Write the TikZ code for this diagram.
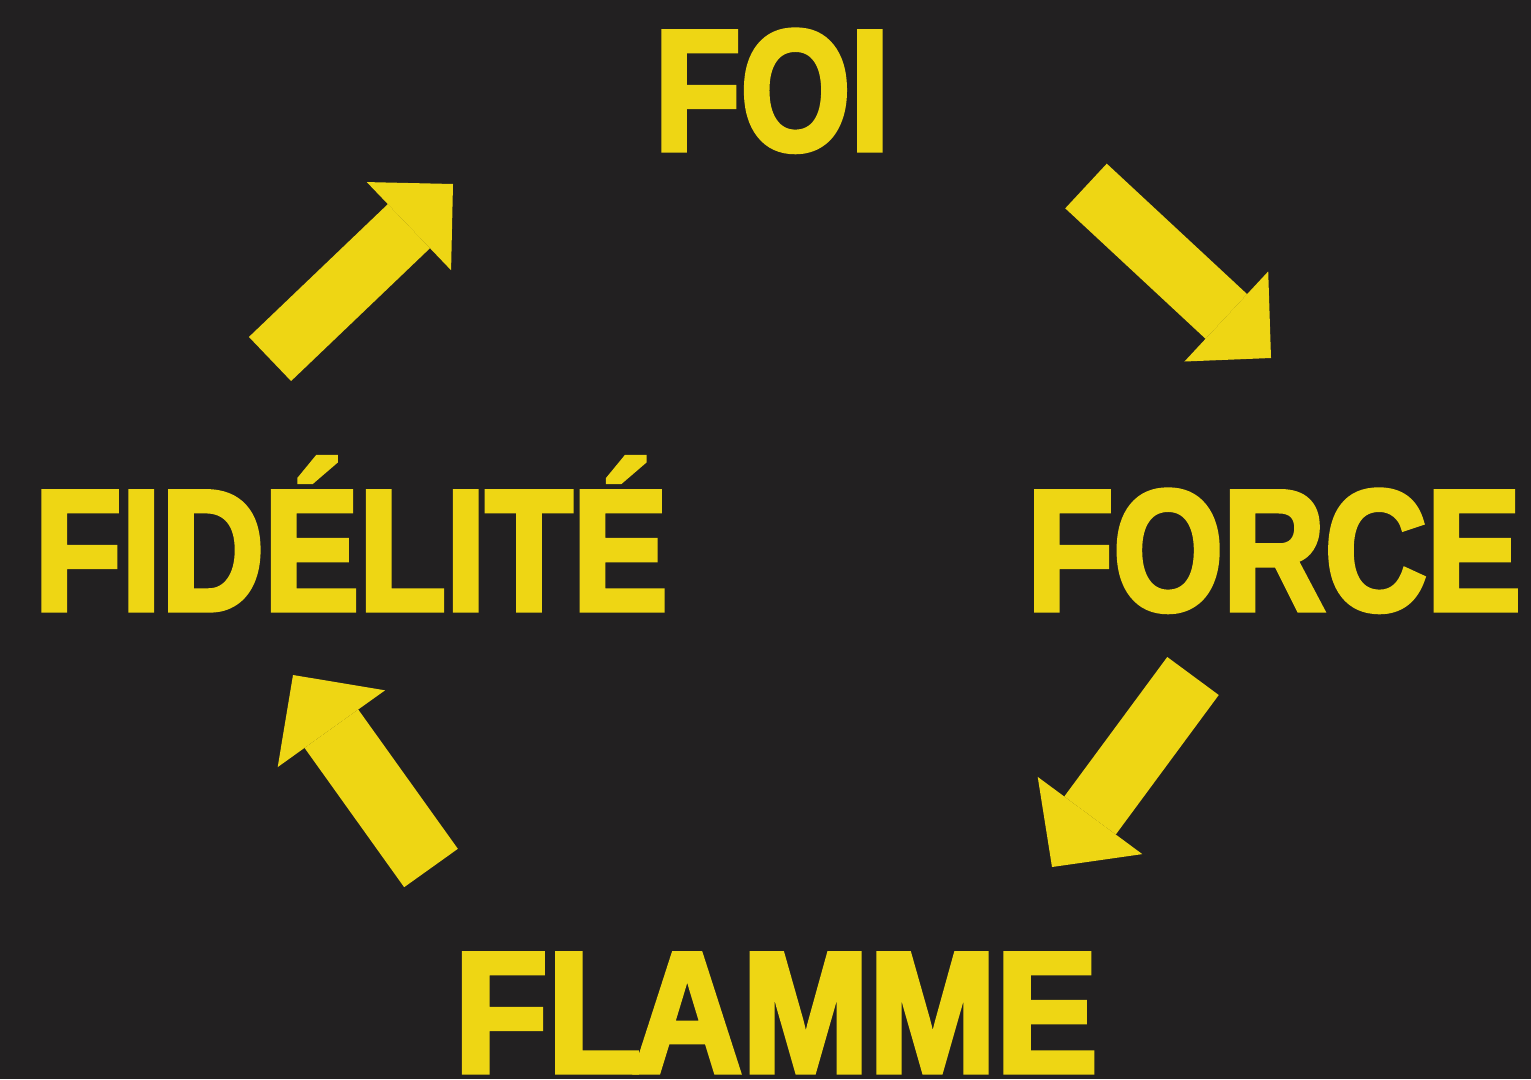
\documentclass[tikz,border=0pt]{standalone}
\usepackage{fontspec}
\setmainfont[FakeStretch=0.82, FakeBold=3]{Liberation Sans}
\usetikzlibrary{arrows.meta}
\definecolor{ink}{HTML}{222021}
\definecolor{gold}{HTML}{EED614}
\tikzset{
  word/.style={
    inner sep = 0pt,
    anchor = base,
    text = gold,
    font = \fontsize{172pt}{172pt}\bfseries\selectfont
  },
  fat/.style 2 args={
    draw = gold,
    line width = #1,
    -{Triangle[length=#1, width=#2, line width=0pt]}
  },
}
\begin{document}
\begin{tikzpicture}[x=1pt, y=-1pt]
  \fill[ink] (0,0) rectangle (1531,1079);
  \useasboundingbox (0,0) rectangle (1531,1079);
  % words
  \node[word] (foi) at (772,150) {FOI};
  \node[word] (force) at (1274,610) {FORCE};
  \node[word] (flamme) at (776,1072) {\scalebox{1.08}[1]{FL\kern-8ptAMME}};
  \node[word] (fidelite) at (351,610) {\scalebox{1.01}[1]{FIDÉLITÉ}};
  % arrow ends
  \coordinate (a1s) at (270,359);   \coordinate (a1e) at (453,184);
  \coordinate (a2s) at (1086,186);  \coordinate (a2e) at (1271,358);
  \coordinate (a3s) at (1193,676);  \coordinate (a3e) at (1052,867);
  \coordinate (a4s) at (431,868);   \coordinate (a4e) at (293,675);
  \draw[fat={61pt}{122pt}] (a1s) -- (a1e);
  \draw[fat={61pt}{123pt}] (a2s) -- (a2e);
  \draw[fat={64pt}{130pt}] (a3s) -- (a3e);
  \draw[fat={66pt}{132pt}] (a4s) -- (a4e);
\end{tikzpicture}
\end{document}
